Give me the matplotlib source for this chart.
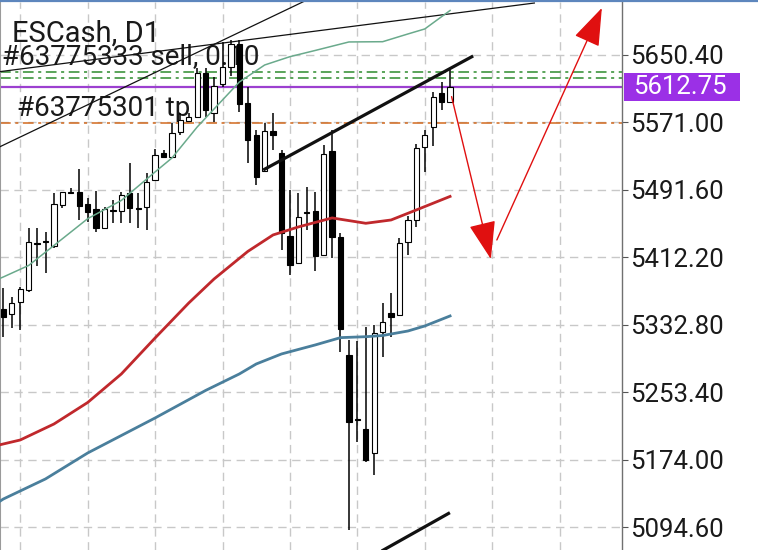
import matplotlib
matplotlib.use("Agg")
import matplotlib.pyplot as plt
import numpy as np
from matplotlib.patches import Rectangle
from matplotlib.transforms import blended_transform_factory
from matplotlib.lines import Line2D

plt.rcParams['font.family'] = ['Roboto', 'DejaVu Sans']

# ---------------- data ----------------
symbol_title = "ESCash, D1"
order_sell_label = "#63775333 sell, 0.10"
order_tp_label = "#63775301 tp"

opens = [5351.3, 5345.7, 5359.5, 5374.0, 5429.3, 5431.6, 5426.1, 5474.0, 5488.9, 5489.6,
         5474.8, 5468.9, 5446.5, 5468.1, 5467.3, 5487.7, 5470.4, 5472.0, 5503.4, 5534.8,
         5530.8, 5560.2, 5573.1, 5577.1, 5628.9, 5582.2, 5616.3, 5636.6, 5663.3, 5593.6,
         5556.3, 5514.0, 5560.7, 5534.8, 5437.5, 5405.4, 5465.4, 5467.3, 5415.1, 5537.5,
         5436.7, 5297.5, 5221.6, 5210.1, 5182.6, 5324.9, 5347.3, 5344.6, 5430.8, 5456.3,
         5541.8, 5566.1, 5605.4, 5595.5]
highs = [5376.0, 5366.1, 5377.9, 5446.5, 5446.5, 5442.6, 5487.7, 5489.6, 5493.6, 5516.0,
         5481.8, 5490.4, 5472.0, 5479.8, 5489.6, 5523.7, 5487.7, 5511.2, 5539.5, 5538.7,
         5570.1, 5581.8, 5581.8, 5634.8, 5634.8, 5624.5, 5665.7, 5668.0, 5668.0, 5613.1,
         5562.2, 5570.1, 5582.2, 5538.7, 5491.6, 5487.7, 5495.5, 5489.6, 5544.5, 5562.2,
         5440.7, 5315.2, 5314.0, 5330.8, 5332.8, 5359.0, 5370.8, 5434.8, 5461.0, 5545.7,
         5562.2, 5607.2, 5619.0, 5632.8]
lows = [5319.0, 5328.9, 5326.9, 5372.0, 5402.2, 5393.6, 5423.0, 5470.1, 5487.7, 5456.3,
        5454.3, 5442.6, 5445.7, 5452.4, 5452.4, 5452.4, 5446.5, 5444.6, 5502.2, 5528.9,
        5529.8, 5556.3, 5572.8, 5575.9, 5577.5, 5571.6, 5613.1, 5625.7, 5582.8, 5523.0,
        5497.5, 5512.8, 5538.7, 5421.0, 5391.6, 5404.6, 5444.6, 5396.7, 5414.0, 5411.3,
        5301.4, 5091.7, 5195.5, 5172.0, 5156.4, 5295.5, 5319.0, 5343.4, 5415.1, 5448.4,
        5513.1, 5543.4, 5585.7, 5595.1]
closes = [5342.6, 5359.0, 5374.8, 5430.1, 5427.5, 5430.1, 5474.8, 5488.9, 5488.1, 5472.8,
          5466.1, 5446.5, 5468.9, 5467.3, 5485.7, 5470.1, 5469.6, 5501.4, 5532.8, 5530.1,
          5559.0, 5573.9, 5577.1, 5628.9, 5585.7, 5613.9, 5636.3, 5663.3, 5592.8, 5550.4,
          5506.3, 5561.0, 5556.3, 5440.7, 5403.4, 5459.5, 5464.5, 5414.0, 5533.6, 5436.7,
          5327.7, 5218.7, 5220.5, 5174.0, 5323.7, 5336.7, 5341.9, 5429.6, 5456.3, 5540.7,
          5556.3, 5600.6, 5595.5, 5612.75]

# moving averages (candle index, price)
ma_green_idx = [-1, 0, 3, 6, 10, 14, 18, 20, 23, 25, 28, 31, 34, 37, 41, 45, 48, 50, 53]
ma_green_val = [5385.1, 5389.3, 5402.8, 5426.3, 5457.8, 5479.3, 5512.8, 5529.2, 5565.7, 5586.9,
                5618.6, 5638.6, 5648.4, 5655.7, 5665.7, 5666.0, 5675.1, 5681.0, 5702.7]
ma_red_idx = [-1, 2, 6, 10, 14, 18, 22, 25, 29, 32, 35, 39, 42, 43, 46, 49, 53]
ma_red_val = [5190.5, 5197.5, 5216.3, 5241.6, 5275.2, 5317.5, 5358.7, 5386.9, 5419.3, 5438.7,
              5448.1, 5458.7, 5454.0, 5452.4, 5456.3, 5468.1, 5484.0]
ma_blue_idx = [-1, 0, 5, 10, 18, 24, 28, 30, 33, 37, 40, 43, 45, 48, 50, 53]
ma_blue_val = [5121.7, 5128.1, 5151.7, 5182.2, 5223.4, 5255.8, 5275.2, 5286.9, 5298.7, 5309.3,
               5317.9, 5319.0, 5320.4, 5325.7, 5331.6, 5343.4]

# horizontal order levels
current_price = 5612.75
sl_levels = [5630.1, 5623.7]
tp_level = 5570.3

# trend lines: (idx0, price0, idx1, price1)
thin_lines = [(-0.4, 5542.5, 36.0, 5715.0), (-0.4, 5630.8, 63.0, 5711.5)]
thick_lines = [(30.83, 5515.1, 55.74, 5649.2), (44.0, 5062.0, 52.98, 5112.0)]

# forecast arrows: (start idx, start price, tip idx, tip price)
arrows = [(53.18, 5601.4, 57.84, 5410.4), (58.55, 5432.8, 71.01, 5705.7)]

# axis
ytick_vals = [5650.40, 5571.00, 5491.60, 5412.20, 5332.80, 5253.40, 5174.00, 5094.60]
xgrid_idx = [2, 10, 18, 26, 34, 42, 50, 58, 66]

# ---------------- figure ----------------
W, H = 758, 550
fig = plt.figure(figsize=(W / 100, H / 100), dpi=100)
ax = fig.add_axes([0, 0, 622 / W, 548 / H])
ax.set_xlim(-0.4, 73.4)
ax.set_ylim(5068.1, 5712.7)

# grid
ax.set_xticks(xgrid_idx)
ax.set_yticks(ytick_vals)
ax.set_yticklabels([f"{v:.2f}" for v in ytick_vals])
ax.grid(True, color='#c8c8c8', lw=1.0, linestyle=(0, (6, 4)), zorder=0)
ax.set_axisbelow(True)
ax.yaxis.tick_right()
ax.tick_params(axis='x', length=0, labelbottom=False)
ax.tick_params(axis='y', length=4, width=0.8, color='#555555', pad=1.5,
               labelsize=18.5, labelcolor='#1a1a1a')
for s in ['top', 'bottom']:
    ax.spines[s].set_visible(False)
ax.spines['left'].set_color('#9a9a9a')
ax.spines['left'].set_linewidth(1.5)
ax.spines['right'].set_color('#707070')
ax.spines['right'].set_linewidth(1.0)

# texts (under candles)
def px(xp, yp):
    return xp / 622, (550 - yp) / 548

ax.text(*px(12, 42), symbol_title, transform=ax.transAxes, fontsize=21,
        color='#1a1a1a', va='baseline', ha='left', zorder=1)
ax.text(*px(2, 64.5), order_sell_label, transform=ax.transAxes, fontsize=20,
        color='#1a1a1a', va='baseline', ha='left', zorder=1)
ax.text(*px(17, 115.5), order_tp_label, transform=ax.transAxes, fontsize=20,
        color='#1a1a1a', va='baseline', ha='left', zorder=1)

# horizontal levels
for lv in sl_levels:
    ax.axhline(lv, color='#2e8b2e', lw=1.1, linestyle=(0, (7, 3, 2, 3)), zorder=2)
ax.axhline(tp_level, color='#d2691e', lw=1.1, linestyle=(0, (7, 3, 2, 3)), zorder=2)
ax.axhline(current_price, color='#9c40d0', lw=1.6, zorder=2)

# trend lines
for (x0, y0, x1, y1) in thin_lines:
    ax.plot([x0, x1], [y0, y1], color='#111111', lw=0.9, zorder=3)

# candles
idx = np.arange(len(opens))
o = np.array(opens); h = np.array(highs); l = np.array(lows); c = np.array(closes)
ax.vlines(idx, l, h, color='#000000', lw=1.1, zorder=4)
bull = c >= o
bottoms = np.minimum(o, c)
heights = np.maximum(np.abs(c - o), 1.3)
ax.bar(idx, heights, bottom=bottoms, width=0.62,
       color=np.where(bull, '#ffffff', '#000000'), edgecolor='#000000',
       linewidth=0.8, zorder=5)

# moving averages
ax.plot(ma_green_idx, ma_green_val, color='#6aaa8c', lw=1.1, zorder=6)
ax.plot(ma_red_idx, ma_red_val, color='#c0282c', lw=2.0, zorder=6)
ax.plot(ma_blue_idx, ma_blue_val, color='#4a7f9c', lw=2.0, zorder=6)

for (x0, y0, x1, y1) in thick_lines:
    ax.plot([x0, x1], [y0, y1], color='#111111', lw=2.3, zorder=7,
            solid_capstyle='butt')

# arrows
for (x0, y0, x1, y1) in arrows:
    ax.annotate('', xy=(x1, y1), xytext=(x0, y0), annotation_clip=False,
                arrowprops=dict(arrowstyle='-|>,head_length=2.4,head_width=0.85',
                                mutation_scale=10, color='#e01010', lw=1.0,
                                shrinkA=0, shrinkB=0), zorder=8)

# current price label box
tr = blended_transform_factory(fig.transFigure, ax.transData)
box_h = 28 * (5712.7 - 5068.1) / 548
ax.add_patch(Rectangle((624 / W, current_price - box_h / 2), 116 / W, box_h,
                       transform=tr, facecolor='#9b30e6', edgecolor='none',
                       clip_on=False, zorder=9))
ax.text(633 / W, current_price, f"{current_price:.2f}", transform=tr,
        fontsize=18.5, color='white', va='center', ha='left', zorder=10,
        clip_on=False)

# top border line
fig.add_artist(Line2D([0, 1], [1 - 1 / H, 1 - 1 / H], transform=fig.transFigure,
                      color='#5d86bd', lw=1.6))

fig.savefig("out.png", dpi=100)
